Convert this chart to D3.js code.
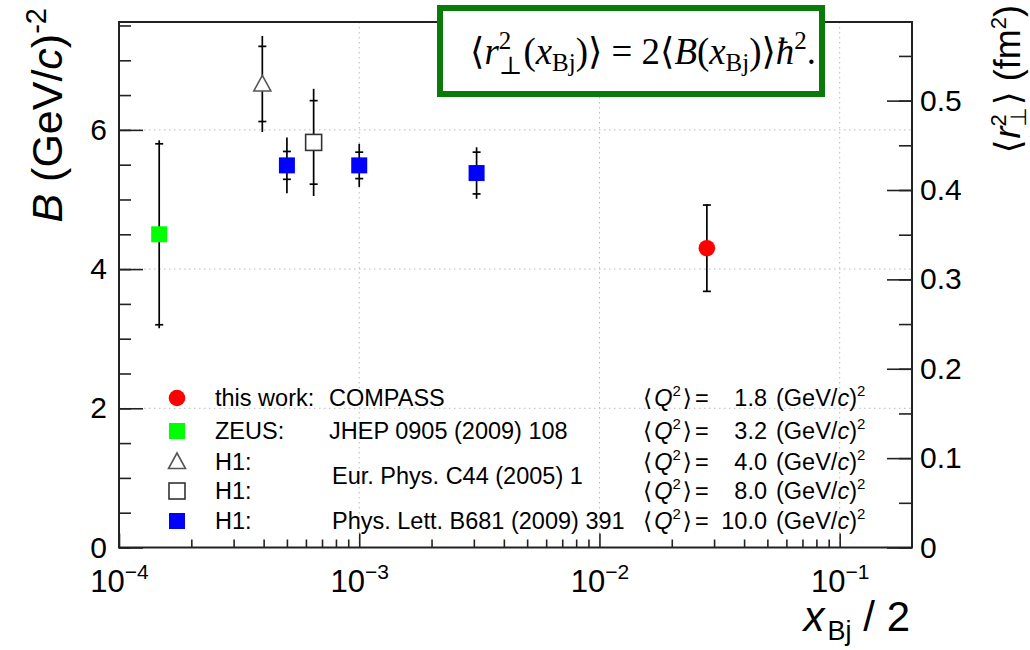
<!DOCTYPE html>
<html>
<head>
<meta charset="utf-8">
<script src="https://cdn.jsdelivr.net/npm/d3@7"></script>
<style>
  body { margin: 0; background: #fff; }
  svg { display: block; }
  text { font-family: "Liberation Sans", Arial, Helvetica, sans-serif; fill: #000; white-space: pre; }
</style>
</head>
<body>
<svg id="chart" width="1030" height="650"></svg>
<script>
// slope parameter B vs x_Bj/2, one entry per measured point
const pointSeries = [0, 1, 2, 3, 4, 4, 4];
const xHalf = [0.028, 1.47e-4, 3.95e-4, 6.46e-4, 5.0e-4, 1.0e-3, 3.08e-3];
const slopeB = [4.30, 4.50, 6.66, 5.82, 5.49, 5.49, 5.38];
const statErr = [0.62, 1.30, 0.54, 0.60, 0.20, 0.19, 0.30];
const totErr = [0.63, 1.35, 0.69, 0.77, 0.40, 0.31, 0.37];

// legend rows
const expNames = ["this work:", "ZEUS:", "H1:", "H1:", "H1:"];
const refNames = ["COMPASS", "JHEP 0905 (2009) 108", "", "", "Phys. Lett. B681 (2009) 391"];
const sharedRef = "Eur. Phys. C44 (2005) 1";
const q2Values = ["1.8", "3.2", "4.0", "8.0", "10.0"];

// axis ticks
const leftMajor = [0, 2, 4, 6];
const rightMajor = [0, 0.1, 0.2, 0.3, 0.4, 0.5];
const xMajor = [1e-4, 1e-3, 1e-2, 1e-1];
const xExponents = [-4, -3, -2, -1];

// marker style per series
const markerShape = ["circle", "square", "triangle", "square", "square"];
const markerFill = ["#ff0000", "#00ff00", "#fff", "#fff", "#0000ff"];
const markerStroke = ["none", "none", "#555", "#333", "none"];

const hbar2 = 0.197327 * 0.197327; // (hbar c)^2 in GeV^2 fm^2
const bMax = 7.55;

const svg = d3.select("#chart");
const plotL = 119, plotR = 912, plotT = 22, plotB = 547.5;

const x = d3.scaleLog().domain([1e-4, 0.2]).range([plotL, plotR]);
const y = d3.scaleLinear().domain([0, bMax]).range([plotB, plotT]);
const yR = d3.scaleLinear().domain([0, 2 * bMax * hbar2]).range([plotB, plotT]);

// dotted grid at major ticks
const grid = svg.append("g").attr("stroke", "#bbb").attr("stroke-width", 1).attr("stroke-dasharray", "1.5,3.5");
grid.selectAll("line.v").data(xMajor.slice(1)).join("line")
  .attr("x1", d => x(d)).attr("x2", d => x(d)).attr("y1", plotT).attr("y2", plotB);
grid.selectAll("line.h").data(leftMajor.slice(1)).join("line")
  .attr("x1", plotL).attr("x2", plotR).attr("y1", d => y(d)).attr("y2", d => y(d));

// axes: ticks point into the frame
function styleAxis(g) {
  g.select(".domain").remove();
  g.selectAll(".tick line").attr("stroke", "#222").attr("stroke-width", 1.6);
  g.selectAll(".tick text").attr("font-size", 30).attr("fill", "#000");
}

svg.append("g").attr("transform", `translate(${plotL},0)`)
  .call(d3.axisLeft(y).tickValues(d3.range(0, bMax, 0.5)).tickSize(-12).tickFormat(""))
  .call(styleAxis);
svg.append("g").attr("transform", `translate(${plotL},0)`)
  .call(d3.axisLeft(y).tickValues(leftMajor).tickSize(-24).tickPadding(12).tickFormat(d3.format("d")))
  .call(styleAxis);

svg.append("g").attr("transform", `translate(${plotR},0)`)
  .call(d3.axisRight(yR).tickValues(d3.range(0, 0.58, 0.05)).tickSize(-13).tickFormat(""))
  .call(styleAxis);
svg.append("g").attr("transform", `translate(${plotR},0)`)
  .call(d3.axisRight(yR).tickValues(rightMajor).tickSize(-25).tickPadding(8)
    .tickFormat(d => d === 0 ? "0" : d3.format(".1f")(d)))
  .call(styleAxis);

const xMinor = [];
xMajor.forEach(d => { for (let m = 2; m <= 9; m++) if (m * d < 0.2 - 1e-9) xMinor.push(m * d); });
svg.append("g").attr("transform", `translate(0,${plotB})`)
  .call(d3.axisBottom(x).tickValues(xMinor).tickSize(-8).tickFormat(""))
  .call(styleAxis);
svg.append("g").attr("transform", `translate(0,${plotB})`)
  .call(d3.axisBottom(x).tickValues(xMajor).tickSize(-14).tickFormat(""))
  .call(styleAxis)
  .call(g => g.selectAll(".tick").append("text")
    .attr("y", 44.5).attr("text-anchor", "middle").attr("font-size", 31)
    .each(function(d, i) {
      const t = d3.select(this);
      t.append("tspan").text("10");
      t.append("tspan").attr("dy", -13).attr("font-size", 21).text("\u2212" + (-xExponents[i]));
    }));

// frame
svg.append("rect").attr("x", plotL).attr("y", plotT)
  .attr("width", plotR - plotL).attr("height", plotB - plotT)
  .attr("fill", "none").attr("stroke", "#222").attr("stroke-width", 2);

// error bars: line to total error, small crossbars at stat error
const bars = svg.append("g").attr("stroke", "#000").attr("stroke-width", 1.7);
bars.selectAll("line.err").data(xHalf).join("line")
  .attr("x1", d => x(d)).attr("x2", d => x(d))
  .attr("y1", (d, i) => y(slopeB[i] + totErr[i])).attr("y2", (d, i) => y(slopeB[i] - totErr[i]));
bars.selectAll("line.up").data(xHalf).join("line")
  .attr("x1", d => x(d) - 4).attr("x2", d => x(d) + 4)
  .attr("y1", (d, i) => y(slopeB[i] + statErr[i])).attr("y2", (d, i) => y(slopeB[i] + statErr[i]));
bars.selectAll("line.dn").data(xHalf).join("line")
  .attr("x1", d => x(d) - 4).attr("x2", d => x(d) + 4)
  .attr("y1", (d, i) => y(slopeB[i] - statErr[i])).attr("y2", (d, i) => y(slopeB[i] - statErr[i]));

function drawMarker(g, s) {
  const shape = markerShape[s];
  let m;
  if (shape === "circle") m = g.append("circle").attr("r", 8.3);
  else if (shape === "square") m = g.append("rect").attr("x", -8).attr("y", -8).attr("width", 16).attr("height", 16);
  else m = g.append("path").attr("d", "M0,-8.5L8.5,7L-8.5,7Z");
  m.attr("fill", markerFill[s]).attr("stroke", markerStroke[s]).attr("stroke-width", 1.6);
}

svg.append("g").selectAll("g").data(xHalf).join("g")
  .attr("transform", (d, i) => `translate(${x(d)},${y(slopeB[i])})`)
  .each(function(d, i) { drawMarker(d3.select(this), pointSeries[i]); });

// pieces of mixed text laid out left to right, returns total width
function mathText(g, x0, y0, parts, base, family, k = 1) {
  let cx = x0;
  parts.forEach(p => {
    const mk = (str, size, dy, it) => g.append("text")
      .attr("x", cx).attr("y", y0 + dy * k).attr("font-size", size * k)
      .style("font-family", family).attr("font-style", it ? "italic" : "normal")
      .text(str);
    if (p.sup !== undefined && p.sub !== undefined) {
      const a = mk(p.sup, p.size, -p.up, false);
      const b = mk(p.sub, p.size, p.down, false);
      cx += Math.max(a.node().getComputedTextLength(), b.node().getComputedTextLength()) + (p.gap || 0) * k;
    } else {
      const t = mk(p.t, p.size || base, p.dy || 0, p.it);
      cx += t.node().getComputedTextLength() + (p.gap || 0) * k;
    }
  });
  return cx - x0;
}

const sans = "'Liberation Sans', 'DejaVu Sans', Arial, sans-serif";
const serif = "'Liberation Serif', 'DejaVu Serif', serif";

// legend
const legFont = 23.5;
const legRowY = [398, 431, 461.5, 491, 521];
const leg = svg.append("g");
legRowY.forEach((ry, s) => {
  drawMarker(leg.append("g").attr("transform", `translate(177,${ry})`), s);
  leg.append("text").attr("x", 215).attr("y", ry + 8).attr("font-size", legFont).text(expNames[s]);
  if (refNames[s]) leg.append("text").attr("x", s === 4 ? 332 : 329).attr("y", ry + 8).attr("font-size", legFont).text(refNames[s]);
  mathText(leg, 643, ry + 8, [
    { t: "\u27e8", gap: 2 }, { t: "Q", it: true }, { t: "2", size: 15, dy: -10, gap: 2 }, { t: "\u27e9", gap: 3 }, { t: "=" }
  ], legFont, sans);
  leg.append("text").attr("x", 767).attr("y", ry + 8).attr("font-size", legFont).attr("text-anchor", "end").text(q2Values[s]);
  mathText(leg, 776, ry + 8, [
    { t: "(GeV/" }, { t: "c", it: true }, { t: ")" }, { t: "2", size: 15, dy: -10 }
  ], legFont, sans);
});
leg.append("text").attr("x", 332).attr("y", 484).attr("font-size", legFont).text(sharedRef);

// axis titles
const lt = svg.append("g");
const ltw = mathText(lt, 0, 0, [
  { t: "B", it: true }, { t: " (GeV/" }, { t: "c", it: true }, { t: ")" }, { t: "-2", size: 29, dy: -16 }
], 43, sans);
lt.attr("transform", `translate(62,${8 + ltw}) rotate(-90)`);

const rt = svg.append("g");
const rtw = mathText(rt, 0, 0, [
  { t: "\u27e8", gap: 1 }, { t: "r", it: true }, { sup: "2", sub: "\u22a5", size: 22, up: 14, down: 6, gap: 2 },
  { t: "\u27e9" }, { t: " (fm" }, { t: "2", size: 22, dy: -14 }, { t: ")" }
], 36, sans);
rt.attr("transform", `translate(1020,${5 + rtw}) rotate(-90)`);

const xt = svg.append("g");
const xtw = mathText(xt, 0, 0, [
  { t: "x", it: true, gap: 3 }, { t: "Bj", size: 27, dy: 9 }, { t: " / 2" }
], 42, sans);
xt.attr("transform", `translate(${910 - xtw},631)`);

// relation between B and the transverse size
svg.append("rect").attr("x", 440).attr("y", 8).attr("width", 382).attr("height", 86)
  .attr("fill", "#fff").attr("stroke", "#0a7a0a").attr("stroke-width", 6);
const formulaParts = [
  { t: "\u27e8" }, { t: "r", it: true }, { sup: "2", sub: "\u22a5", size: 21, up: 13, down: 8, gap: 1 },
  { t: "(" }, { t: "x", it: true }, { t: "Bj", size: 21, dy: 6 }, { t: ")\u27e9" },
  { t: " = 2" }, { t: "\u27e8" }, { t: "B", it: true }, { t: "(" }, { t: "x", it: true },
  { t: "Bj", size: 21, dy: 6 }, { t: ")\u27e9" }, { t: "\u0127", it: true }, { t: "2", size: 21, dy: -13 }, { t: "." }
];
// size the formula so it fills the box the way the typeset original does
const probe = svg.append("g");
const fw0 = mathText(probe, 0, 0, formulaParts, 31, serif);
probe.remove();
const fm = svg.append("g").attr("transform", "translate(470,64)");
mathText(fm, 0, 0, formulaParts, 31, serif, 346 / fw0);
</script>
</body>
</html>
